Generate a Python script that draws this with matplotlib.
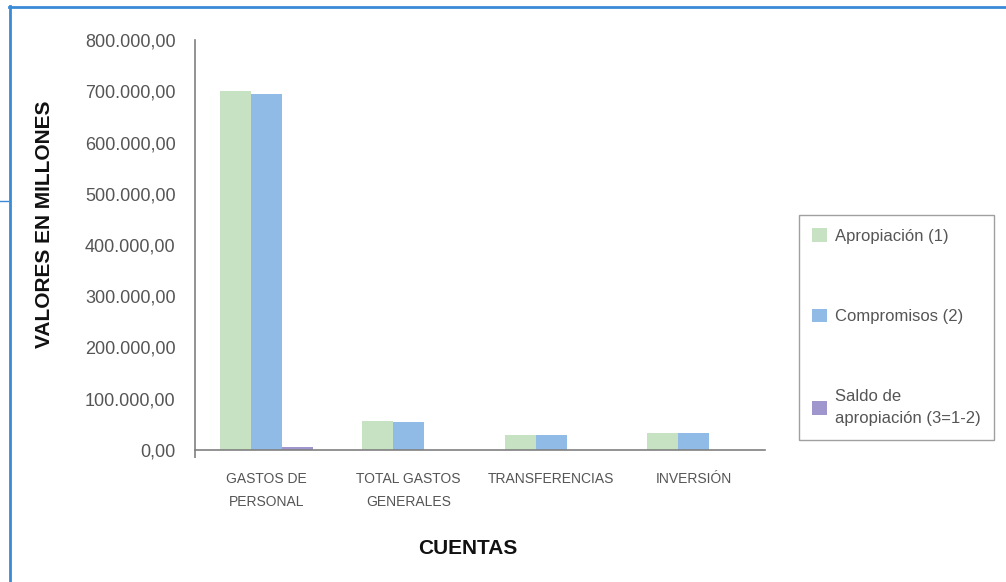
import numpy as np
import matplotlib.pyplot as plt
from matplotlib.lines import Line2D
from matplotlib.ticker import FuncFormatter

plt.rcParams['font.family'] = ['Liberation Sans', 'DejaVu Sans']

# datos por cuenta (millones)
categorias = ['GASTOS DE\nPERSONAL', 'TOTAL GASTOS\nGENERALES', 'TRANSFERENCIAS', 'INVERSIÓN']
apropiacion = [700500, 55800, 29300, 33000]
compromisos = [695200, 55600, 28600, 32700]
saldo = [5300, 200, 700, 300]
series = ['Apropiación (1)', 'Compromisos (2)', 'Saldo de\napropiación (3=1-2)']
colores = ['#c6e2c3', '#8fbbe6', '#9e96cc']

fig = plt.figure(figsize=(10.06, 5.82), dpi=100)
ax = fig.add_axes([195/1006, 1-450/582, 570/1006, 410/582])

x = np.arange(len(categorias))
w = 0.218
for i, (vals, lab, col) in enumerate(zip([apropiacion, compromisos, saldo], series, colores)):
    ax.bar(x + (i - 1)*w, vals, width=w, color=col, label=lab, linewidth=0)

ax.set_xlim(-0.5, 3.5)
ax.set_ylim(0, 800000)
ax.set_yticks(np.arange(0, 800001, 100000))
ax.yaxis.set_major_formatter(FuncFormatter(
    lambda v, p: f"{v:,.2f}".replace(',', '_').replace('.', ',').replace('_', '.')))
ax.set_xticks(x)
ax.set_xticklabels(categorias, linespacing=1.8)

for s in ['top', 'right']:
    ax.spines[s].set_visible(False)
for s in ['left', 'bottom']:
    ax.spines[s].set_color('#808080')
    ax.spines[s].set_linewidth(1.2)

ax.tick_params(axis='y', length=0, pad=14, labelsize=13, labelcolor='#555555')
ax.tick_params(axis='x', length=0, pad=16, labelsize=10, labelcolor='#555555')
# pequeñas marcas en la esquina de los ejes
ax.set_xticks([-0.5], minor=True)
ax.set_yticks([0], minor=True)
ax.tick_params(which='minor', length=6, color='#808080', width=1.2)
ax.xaxis.set_minor_formatter(FuncFormatter(lambda v, p: ''))
ax.yaxis.set_minor_formatter(FuncFormatter(lambda v, p: ''))

fig.text(45/1006, 1-224/582, 'VALORES EN MILLONES', rotation=90, ha='center', va='center',
         fontsize=15, fontweight='bold', color='#111111')
fig.text(468/1006, 1-548/582, 'CUENTAS', ha='center', va='center',
         fontsize=15, fontweight='bold', color='#111111')

leg = fig.legend(loc='upper left', bbox_to_anchor=(799/1006, 1-215/582),
                 frameon=True, fancybox=False, fontsize=12, labelcolor='#555555',
                 handlelength=0.85, handleheight=0.85, handletextpad=0.5,
                 labelspacing=3.9, borderpad=0.8, borderaxespad=0)
leg.get_frame().set_edgecolor('#888888')
leg.get_frame().set_linewidth(1.0)
leg.get_texts()[2].set_linespacing(1.6)

# marco azul de la página
azul = '#3a8ad6'
fig.add_artist(Line2D([9/1006, 1], [1-6.5/582]*2, transform=fig.transFigure, color=azul, lw=2))
fig.add_artist(Line2D([9.5/1006]*2, [0, 1-6/582], transform=fig.transFigure, color=azul, lw=2))
fig.add_artist(Line2D([0, 8/1006], [1-201/582]*2, transform=fig.transFigure, color=azul, lw=1))

fig.savefig('out.png', dpi=100)
